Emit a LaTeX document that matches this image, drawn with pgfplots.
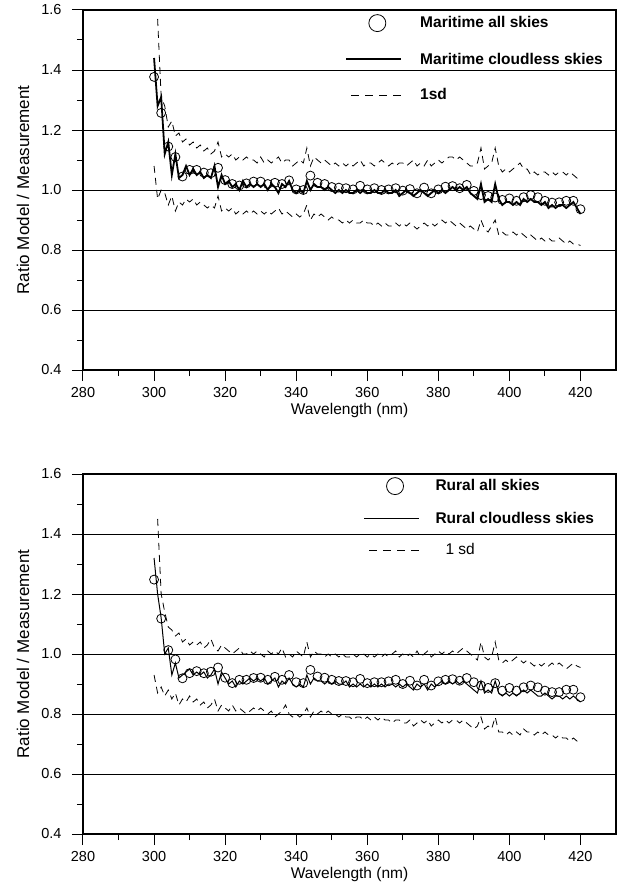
\documentclass[border=0pt]{standalone}
\usepackage{pgfplots}
\pgfplotsset{compat=1.18}
\usepackage{pgfplotstable}
\usepackage{fontspec}
\setmainfont{Liberation Sans}

% maritime: cloudless ratio (c), +1sd (u), -1sd (l)
\pgfplotstableread{
w c u l
300 1.44 nan 1.08
301 1.28 1.57 0.97
302 1.31 1.31 1.00
303 1.12 1.28 0.99
304 1.16 1.21 0.95
305 1.05 1.23 0.98
306 1.12 1.18 0.93
307 1.04 1.19 0.96
308 1.05 1.16 0.95
309 1.08 1.17 0.97
310 1.05 1.15 0.96
311 1.07 1.16 0.97
312 1.05 1.14 0.95
313 1.06 1.15 0.96
314 1.04 1.13 0.95
315 1.05 1.14 0.94
316 1.04 1.12 0.95
317 1.08 1.13 0.94
318 1.01 1.16 0.98
319 1.05 1.11 0.93
320 1.02 1.12 0.94
321 1.03 1.11 0.93
322 1.01 1.12 0.94
323 1.02 1.10 0.92
324 1.00 1.11 0.93
325 1.03 1.10 0.92
326 1.01 1.11 0.93
327 1.02 1.10 0.92
328 1.01 1.10 0.93
329 1.02 1.09 0.92
330 1.01 1.11 0.93
331 1.02 1.09 0.92
332 1.00 1.10 0.93
333 1.02 1.09 0.92
334 1.01 1.10 0.93
335 0.99 1.11 0.94
336 1.02 1.09 0.92
337 1.01 1.10 0.93
338 1.03 1.10 0.92
339 1.00 1.08 0.91
340 0.99 1.09 0.92
341 1.00 1.10 0.91
342 0.99 1.09 0.92
343 1.03 1.14 0.95
344 1.00 1.08 0.90
345 1.02 1.11 0.92
346 1.01 1.10 0.91
347 1.01 1.09 0.92
348 1.00 1.10 0.91
349 1.01 1.09 0.90
350 1.00 1.08 0.91
351 0.99 1.09 0.90
352 1.00 1.08 0.90
353 0.99 1.09 0.89
354 1.00 1.08 0.90
355 0.99 1.09 0.89
356 0.99 1.08 0.90
357 1.00 1.09 0.89
358 0.99 1.10 0.89
359 1.00 1.08 0.90
360 0.99 1.09 0.89
361 0.99 1.09 0.89
362 1.00 1.08 0.88
363 0.99 1.09 0.89
364 0.99 1.10 0.88
365 1.00 1.09 0.89
366 0.99 1.08 0.88
367 0.99 1.09 0.88
368 1.00 1.08 0.89
369 0.98 1.09 0.88
370 0.99 1.09 0.89
371 1.00 1.08 0.88
372 0.99 1.09 0.89
373 0.98 1.10 0.88
374 0.99 1.08 0.87
375 1.00 1.09 0.88
376 0.99 1.08 0.89
377 0.98 1.10 0.88
378 0.99 1.08 0.89
379 1.00 1.09 0.88
380 0.99 1.10 0.89
381 1.00 1.09 0.90
382 0.99 1.10 0.89
383 1.00 1.11 0.90
384 1.01 1.11 0.89
385 1.00 1.10 0.88
386 1.01 1.11 0.89
387 1.00 1.10 0.88
388 1.01 1.09 0.87
389 0.99 1.08 0.88
390 0.98 1.08 0.87
391 0.97 1.09 0.86
392 1.02 1.14 0.90
393 0.96 1.07 0.87
394 0.97 1.08 0.86
395 0.96 1.09 0.88
396 1.02 1.14 0.90
397 0.97 1.08 0.85
398 0.95 1.06 0.86
399 0.96 1.07 0.85
400 0.96 1.06 0.85
401 0.95 1.07 0.86
402 0.96 1.08 0.85
403 0.95 1.09 0.86
404 0.97 1.07 0.85
405 0.96 1.07 0.84
406 0.97 1.05 0.85
407 0.96 1.06 0.84
408 0.96 1.05 0.83
409 0.95 1.06 0.84
410 0.96 1.06 0.83
411 0.94 1.05 0.84
412 0.95 1.06 0.83
413 0.94 1.05 0.83
414 0.95 1.06 0.84
415 0.95 1.06 0.83
416 0.94 1.05 0.82
417 0.95 1.06 0.83
418 0.96 1.05 0.82
419 0.94 1.04 0.82
420 0.92 1.03 0.815
}\maritime

% maritime: all skies
\pgfplotstableread{
w r
300 1.377
302 1.257
304 1.145
306 1.110
308 1.045
310 1.067
312 1.067
314 1.058
316 1.056
318 1.074
320 1.033
322 1.020
324 1.015
326 1.022
328 1.028
330 1.028
332 1.020
334 1.024
336 1.020
338 1.032
340 1.002
342 1.000
344 1.048
346 1.024
348 1.020
350 1.010
352 1.008
354 1.006
356 1.002
358 1.014
360 1.002
362 1.006
364 1.000
366 1.002
368 1.006
370 0.998
372 1.003
374 0.989
376 1.008
378 0.989
380 1.002
382 1.011
384 1.013
386 1.006
388 1.017
390 0.997
392 0.983
394 0.980
396 0.975
398 0.967
400 0.972
402 0.964
404 0.976
406 0.983
408 0.976
410 0.964
412 0.958
414 0.959
416 0.964
418 0.964
420 0.936
}\maritimeall

% rural: cloudless ratio (c), +1sd (u), -1sd (l)
\pgfplotstableread{
w c u l
300 1.32 nan 0.93
301 1.20 1.45 0.87
302 1.12 1.20 0.89
303 1.00 1.14 0.86
304 1.02 1.09 0.88
305 0.93 1.08 0.85
306 0.97 1.06 0.87
307 0.92 1.07 0.83
308 0.93 1.04 0.85
309 0.94 1.05 0.84
310 0.95 1.03 0.86
311 0.93 1.04 0.84
312 0.94 1.03 0.85
313 0.93 1.04 0.83
314 0.94 1.02 0.84
315 0.92 1.03 0.82
316 0.93 1.05 0.83
317 0.95 1.02 0.85
318 0.90 1.01 0.81
319 0.94 1.03 0.83
320 0.92 1.02 0.82
321 0.90 1.01 0.81
322 0.91 1.00 0.83
323 0.89 1.01 0.81
324 0.91 1.02 0.82
325 0.90 1.00 0.81
326 0.91 1.00 0.80
327 0.92 1.01 0.81
328 0.91 1.00 0.82
329 0.92 1.01 0.81
330 0.91 1.00 0.82
331 0.92 0.99 0.81
332 0.90 1.01 0.80
333 0.91 1.00 0.81
334 0.92 1.01 0.79
335 0.89 1.00 0.80
336 0.91 1.02 0.81
337 0.90 0.99 0.83
338 0.92 1.00 0.80
339 0.90 0.99 0.79
340 0.89 1.01 0.80
341 0.90 1.00 0.79
342 0.89 0.99 0.80
343 0.93 1.04 0.82
344 0.90 0.99 0.79
345 0.92 1.01 0.81
346 0.91 1.00 0.80
347 0.91 1.00 0.81
348 0.90 0.99 0.80
349 0.91 1.00 0.81
350 0.90 0.99 0.80
351 0.91 1.00 0.80
352 0.90 0.99 0.79
353 0.90 1.00 0.80
354 0.91 0.99 0.79
355 0.89 0.99 0.79
356 0.90 1.00 0.78
357 0.89 0.99 0.79
358 0.90 1.00 0.79
359 0.89 1.00 0.78
360 0.90 0.99 0.79
361 0.89 1.00 0.78
362 0.90 0.99 0.79
363 0.89 1.00 0.78
364 0.90 0.99 0.79
365 0.89 1.00 0.78
366 0.90 0.99 0.78
367 0.90 1.00 0.77
368 0.89 1.01 0.78
369 0.90 0.99 0.78
370 0.89 1.00 0.77
371 0.90 0.99 0.77
372 0.89 1.00 0.78
373 0.88 0.99 0.76
374 0.90 1.01 0.77
375 0.89 0.99 0.78
376 0.90 1.00 0.77
377 0.88 1.01 0.78
378 0.90 0.99 0.76
379 0.89 1.00 0.77
380 0.90 1.01 0.78
381 0.91 1.00 0.77
382 0.90 1.01 0.78
383 0.91 1.00 0.77
384 0.90 1.01 0.78
385 0.91 1.00 0.78
386 0.90 1.01 0.77
387 0.91 1.02 0.78
388 0.90 1.01 0.77
389 0.89 1.00 0.76
390 0.88 0.99 0.75
391 0.87 0.98 0.76
392 0.91 1.04 0.79
393 0.87 0.99 0.75
394 0.88 0.98 0.76
395 0.87 0.99 0.75
396 0.91 1.04 0.79
397 0.87 0.98 0.74
398 0.86 0.97 0.74
399 0.87 0.98 0.73
400 0.86 0.97 0.74
401 0.87 0.98 0.73
402 0.86 0.99 0.74
403 0.87 0.98 0.73
404 0.88 0.97 0.75
405 0.87 0.98 0.74
406 0.88 0.97 0.74
407 0.87 0.96 0.73
408 0.86 0.97 0.74
409 0.86 0.96 0.73
410 0.87 0.97 0.74
411 0.86 0.96 0.73
412 0.85 0.97 0.73
413 0.86 0.96 0.72
414 0.86 0.97 0.73
415 0.85 0.96 0.72
416 0.86 0.95 0.72
417 0.85 0.96 0.71
418 0.86 0.97 0.72
419 0.85 0.96 0.71
420 0.84 0.955 0.70
}\rural

% rural: all skies
\pgfplotstableread{
w r
300 1.248
302 1.118
304 1.013
306 0.982
308 0.919
310 0.936
312 0.943
314 0.936
316 0.941
318 0.955
320 0.921
322 0.903
324 0.914
326 0.914
328 0.920
330 0.921
332 0.914
334 0.924
336 0.914
338 0.930
340 0.906
342 0.903
344 0.947
346 0.925
348 0.921
350 0.914
352 0.910
354 0.910
356 0.906
358 0.917
360 0.903
362 0.906
364 0.906
366 0.909
368 0.914
370 0.900
372 0.911
374 0.895
376 0.914
378 0.895
380 0.909
382 0.914
384 0.916
386 0.911
388 0.920
390 0.906
392 0.895
394 0.887
396 0.903
398 0.878
400 0.887
402 0.878
404 0.889
406 0.895
408 0.889
410 0.878
412 0.873
414 0.873
416 0.881
418 0.881
420 0.856
}\ruralall

\pgfplotsset{
  panel/.style={
    scale only axis, width=533pt, height=360pt,
    xmin=280, xmax=430, ymin=0.4, ymax=1.6,
    xtick={280,300,...,420},
    ytick={0.4,0.6,0.8,1.0,1.2,1.4,1.6},
    minor x tick num=1, minor y tick num=1,
    tick align=outside, xtick pos=bottom, ytick pos=left,
    major tick length=11pt, minor tick length=6pt,
    every tick/.style={black, line width=1pt},
    axis line style={line width=1.2pt},
    ymajorgrids, major grid style={black, line width=0.8pt},
    /pgf/number format/assume math mode=true,
    yticklabel style={/pgf/number format/fixed, /pgf/number format/fixed zerofill,
      /pgf/number format/precision=1, xshift=-7pt},
    xticklabel style={yshift=-3pt},
    tick label style={font=\fontsize{14.5}{17}\selectfont},
    every axis y label/.style={at={(axis description cs:0,0.5)}, xshift=-60pt,
      rotate=90, anchor=center, font=\fontsize{17}{20}\selectfont},
    every axis x label/.style={at={(axis description cs:0.5,0)}, yshift=-40pt,
      anchor=center, font=\fontsize{15.5}{18}\selectfont},
    xlabel={Wavelength (nm)}, ylabel={Ratio Model / Measurement},
    legend cell align=left,
  },
  circlekey/.style={legend image code/.code={
      \path[draw=none, fill=none] (0pt,-8pt) rectangle (55pt,8pt);
      \draw[line width=0.8pt, solid] (31pt,0pt) circle (8.5pt);}},
  linekey/.style={legend image code/.code={
      \path[draw=none, fill=none] (0pt,-8pt) rectangle (55pt,8pt);
      \draw (0pt,0pt) -- (55pt,0pt);}},
  dashkey/.style={legend image code/.code={
      \path[draw=none, fill=none] (0pt,-8pt) rectangle (55pt,8pt);
      \draw[dash pattern=on 8pt off 6pt] (5pt,0pt) -- (55pt,0pt);}},
}

\begin{document}
\begin{tikzpicture}
\useasboundingbox (-83pt,-514pt) rectangle (539pt,370pt);

\begin{axis}[panel, at={(0pt,0pt)},
  legend style={draw=none, fill=none, inner sep=0pt,
    at={(axis cs:353.8,1.6)}, anchor=north west, yshift=-4pt,
    row sep=19pt, column sep=16pt,
    font=\bfseries\fontsize{15.5}{18}\selectfont}]
\addplot[only marks, mark=o, mark size=4.5pt, mark options={line width=0.8pt},
  circlekey] table[x=w, y=r] {\maritimeall};
\addlegendentry{Maritime all skies}
\addplot[black, line width=1.8pt, linekey] table[x=w, y=c] {\maritime};
\addlegendentry{Maritime cloudless skies}
\addplot[black, line width=0.8pt, dash pattern=on 7pt off 5pt, dashkey]
  table[x=w, y=u] {\maritime};
\addlegendentry{1sd}
\addplot[black, line width=0.8pt, dash pattern=on 7pt off 5pt, forget plot]
  table[x=w, y=l] {\maritime};
\end{axis}

\begin{axis}[panel, at={(0pt,-464pt)},
  legend style={draw=none, fill=none, inner sep=0pt,
    at={(axis cs:358.9,1.6)}, anchor=north west, yshift=-3pt,
    row sep=15pt, column sep=14pt,
    font=\fontsize{15.5}{18}\selectfont}]
\addplot[only marks, mark=o, mark size=4.5pt, mark options={line width=0.8pt},
  circlekey] table[x=w, y=r] {\ruralall};
\addlegendentry{\textbf{Rural all skies}}
\addplot[black, line width=1pt, linekey] table[x=w, y=c] {\rural};
\addlegendentry{\textbf{Rural cloudless skies}}
\addplot[black, line width=0.8pt, dash pattern=on 7pt off 5pt, dashkey]
  table[x=w, y=u] {\rural};
\addlegendentry{\hspace{10pt}1 sd}
\addplot[black, line width=0.8pt, dash pattern=on 7pt off 5pt, forget plot]
  table[x=w, y=l] {\rural};
\end{axis}
\end{tikzpicture}
\end{document}
